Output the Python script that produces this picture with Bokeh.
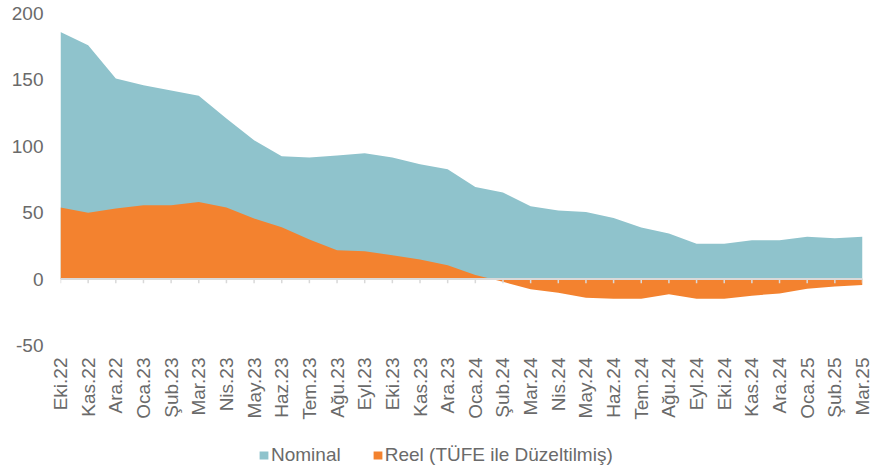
import math
from bokeh.plotting import figure
from bokeh.layouts import column
from bokeh.models import Range1d, FixedTicker, Span, Legend, LegendItem
from bokeh.embed import file_html
from bokeh.resources import INLINE

months = ["Eki.22", "Kas.22", "Ara.22", "Oca.23", "Şub.23", "Mar.23", "Nis.23", "May.23",
          "Haz.23", "Tem.23", "Ağu.23", "Eyl.23", "Eki.23", "Kas.23", "Ara.23", "Oca.24",
          "Şub.24", "Mar.24", "Nis.24", "May.24", "Haz.24", "Tem.24", "Ağu.24", "Eyl.24",
          "Eki.24", "Kas.24", "Ara.24", "Oca.25", "Şub.25", "Mar.25"]
nominal = [186, 176, 151, 146, 142, 138, 121, 104.5, 92.5, 91.5, 93, 94.7, 91.5, 86.5, 82.7,
           69.4, 65.2, 54.9, 51.6, 50.6, 46, 38.8, 34.3, 26.6, 26.6, 29.3, 29.3, 31.8, 30.8, 31.8]
reel = [53.9, 49.9, 53.1, 55.6, 55.6, 58, 53.9, 45.6, 39, 29.8, 21.8, 21, 18, 14.8, 10.5,
        3, -2, -7.7, -10.3, -14, -14.8, -14.8, -11.5, -14.8, -14.8, -12.5, -10.8, -7.3, -5.5, -4.5]
y_ticks = [-50, 0, 50, 100, 150, 200]
series_names = ["Nominal", "Reel (TÜFE ile Düzeltilmiş)"]

TEAL = "#8fc3cc"
ORANGE = "#f3822f"
GRID = "#d9d9d9"
TXT = "#6a6a6a"
FONT = "Liberation Sans"
FS = "19px"

xs = list(range(len(months)))

p = figure(width=872, height=430, output_backend="svg", toolbar_location=None,
           x_range=Range1d(0, len(months) - 1), y_range=Range1d(-50, 200),
           min_border_left=60, min_border_right=10, min_border_top=13, min_border_bottom=85)
p.outline_line_color = None
p.grid.visible = False
p.background_fill_color = "white"
p.border_fill_color = "white"

p.varea(x=xs, y1=0, y2=nominal, fill_color=TEAL)
p.varea(x=xs, y1=0, y2=reel, fill_color=ORANGE)

p.add_layout(Span(location=0, dimension="width", line_color=GRID, line_width=2))
p.segment(x0=xs, y0=[0] * len(xs), x1=xs, y1=[-3.2] * len(xs), line_color=GRID, line_width=1.5)

# axes
p.yaxis.ticker = FixedTicker(ticks=y_ticks)
p.yaxis.major_label_overrides = {t: str(t) for t in y_ticks}
p.yaxis.axis_line_color = None
p.yaxis.major_tick_line_color = None
p.yaxis.minor_tick_line_color = None
p.yaxis.major_tick_out = 0
p.yaxis.major_tick_in = 0
p.yaxis.major_label_standoff = 17
p.yaxis.major_label_text_font = FONT
p.yaxis.major_label_text_font_size = FS
p.yaxis.major_label_text_color = TXT

p.xaxis.ticker = FixedTicker(ticks=xs)
p.xaxis.major_label_overrides = {i: m for i, m in enumerate(months)}
p.xaxis.major_label_orientation = math.pi / 2
p.xaxis.axis_line_color = None
p.xaxis.major_tick_line_color = None
p.xaxis.minor_tick_line_color = None
p.xaxis.major_tick_out = 0
p.xaxis.major_tick_in = 0
p.xaxis.major_label_standoff = 12
p.xaxis.major_label_text_font = FONT
p.xaxis.major_label_text_font_size = FS
p.xaxis.major_label_text_color = TXT

# legend strip below the chart (keys reuse the series data, renderers hidden)
lg = figure(width=872, height=36, output_backend="svg", toolbar_location=None,
            x_axis_location=None, y_axis_location=None,
            x_range=Range1d(0, 1), y_range=Range1d(0, 1), min_border=0)
lg.outline_line_color = None
lg.grid.visible = False
lg.border_fill_color = "white"
lg.background_fill_color = "white"
lk_nom = lg.varea(x=xs, y1=0, y2=nominal, fill_color=TEAL, visible=False)
lk_reel = lg.varea(x=xs, y1=0, y2=reel, fill_color=ORANGE, visible=False)

legend = Legend(items=[LegendItem(label=series_names[0], renderers=[lk_nom]),
                       LegendItem(label=series_names[1], renderers=[lk_reel])],
                location=(198, 0), orientation="horizontal")
legend.padding = 0
legend.margin = 0
legend.border_line_color = None
legend.background_fill_alpha = 0
legend.inactive_fill_alpha = 0
legend.glyph_width = 11
legend.glyph_height = 10
legend.label_standoff = 2
legend.spacing = 31
legend.label_height = 18
legend.label_text_font = FONT
legend.label_text_font_size = FS
legend.label_text_color = TXT
lg.add_layout(legend)

open("out.html", "w").write(file_html(column(p, lg, spacing=0), INLINE))
